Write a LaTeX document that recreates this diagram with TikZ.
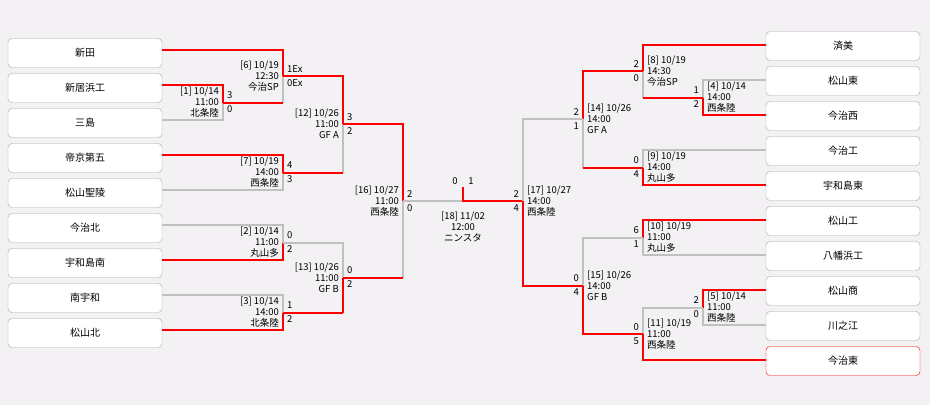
\documentclass[tikz,border=0pt]{standalone}
\usepackage{fontspec}
\setmainfont{Noto Sans CJK JP}
\usepackage{tikz}
\definecolor{bg}{HTML}{F3F1F3}
\definecolor{lgray}{HTML}{C0C0C0}
\definecolor{bgray}{HTML}{A8A8A8}
\begin{document}
\begin{tikzpicture}[x=1pt,y=-1pt,
  win/.style={draw=red,line width=2pt},
  lose/.style={draw=lgray,line width=2pt},
  team/.style={draw=bgray,fill=white,rounded corners=4pt,minimum width=154pt,minimum height=29pt,inner sep=0pt,font=\fontsize{10}{12}\selectfont},
  info/.style={inner sep=0pt,font=\fontsize{9.5}{11}\selectfont},
  score/.style={inner sep=0pt,font=\fontsize{9.5}{10}\selectfont}]
\fill[bg] (0,0) rectangle (930,405);
\useasboundingbox (0,0) rectangle (930,405);
% teams
\foreach \t [count=\i] in {新田,新居浜工,三島,帝京第五,松山聖陵,今治北,宇和島南,南宇和,松山北}
  \node[team] (l\i) at (85,18+35*\i) {\t};
\foreach \t [count=\i] in {済美,松山東,今治西,今治工,宇和島東,松山工,八幡浜工,松山商,川之江}
  \node[team] (r\i) at (843,11+35*\i) {\t};
\node[team,draw=red] (r10) at (843,361) {今治東};

% left side
\draw[win] (162,85) -- (223,85) -- (223,102.5);
\draw[lose] (162,120) -- (223,120) -- (223,102.5);
\draw[win] (162,50) -- (283,50) -- (283,76);
\draw[lose] (283,76) -- (283,102.5);
\draw[win] (223,102.5) -- (283,102.5);
\draw[win] (162,155) -- (283,155) -- (283,172.5);
\draw[lose] (162,190) -- (283,190) -- (283,172.5);
\draw[lose] (162,225) -- (283,225) -- (283,242.5);
\draw[win] (162,260) -- (283,260) -- (283,242.5);
\draw[lose] (162,295) -- (283,295) -- (283,312.5);
\draw[win] (162,330) -- (283,330) -- (283,312.5);
\draw[win] (283,76) -- (343,76) -- (343,124);
\draw[lose] (343,124) -- (343,172.5);
\draw[win] (283,172.5) -- (343,172.5);
\draw[lose] (283,242.5) -- (343,242.5) -- (343,277.5);
\draw[win] (343,277.5) -- (343,312.5);
\draw[win] (283,312.5) -- (343,312.5);
\draw[win] (343,124) -- (403,124) -- (403,201);
\draw[lose] (403,201) -- (403,277.5);
\draw[win] (343,277.5) -- (403,277.5);
% final
\draw[lose] (403,201) -- (463,201);
\draw[win] (463,187) -- (463,201) -- (523,201);
% right side
\draw[lose] (766,80) -- (703,80) -- (703,97.5);
\draw[win] (766,115) -- (703,115) -- (703,97.5);
\draw[win] (766,45) -- (643,45) -- (643,71);
\draw[lose] (643,71) -- (643,97.5);
\draw[win] (703,97.5) -- (643,97.5);
\draw[lose] (766,150) -- (643,150) -- (643,167.5);
\draw[win] (766,185) -- (643,185) -- (643,167.5);
\draw[win] (766,220) -- (643,220) -- (643,237.5);
\draw[lose] (766,255) -- (643,255) -- (643,237.5);
\draw[win] (766,290) -- (703,290) -- (703,307.5);
\draw[lose] (766,325) -- (703,325) -- (703,307.5);
\draw[lose] (703,307.5) -- (643,307.5) -- (643,334);
\draw[win] (643,334) -- (643,360) -- (766,360);
\draw[win] (643,71) -- (583,71) -- (583,119);
\draw[lose] (583,119) -- (583,167.5);
\draw[win] (643,167.5) -- (583,167.5);
\draw[lose] (643,237.5) -- (583,237.5) -- (583,285.5);
\draw[win] (583,285.5) -- (583,334) -- (643,334);
\draw[lose] (583,119) -- (523,119) -- (523,201);
\draw[win] (523,201) -- (523,285.5) -- (583,285.5);

% match info, left
\foreach \x/\y/\txt/\a/\b in {
  223/102.5/{[1] 10/14\\11:00\\北条陸}/3/0,
  283/76/{[6] 10/19\\12:30\\今治SP}/1Ex/0Ex,
  283/172.5/{[7] 10/19\\14:00\\西条陸}/4/3,
  283/242.5/{[2] 10/14\\11:00\\丸山多}/0/2,
  283/312.5/{[3] 10/14\\14:00\\北条陸}/1/2,
  343/124/{[12] 10/26\\11:00\\GF A}/3/2,
  343/277.5/{[13] 10/26\\11:00\\GF B}/0/2,
  403/201/{[16] 10/27\\11:00\\西条陸}/2/0}{
  \node[info,anchor=east,align=right] at (\x-4,\y) {\txt};
  \node[score,anchor=west] at (\x+4,\y-7) {\a};
  \node[score,anchor=west] at (\x+4,\y+7) {\b};
}
% match info, right
\foreach \x/\y/\txt/\a/\b in {
  703/97.5/{[4] 10/14\\14:00\\西条陸}/1/2,
  643/71/{[8] 10/19\\14:30\\今治SP}/2/0,
  643/167.5/{[9] 10/19\\14:00\\丸山多}/0/4,
  643/237.5/{[10] 10/19\\11:00\\丸山多}/6/1,
  703/307.5/{[5] 10/14\\11:00\\西条陸}/2/0,
  643/334/{[11] 10/19\\11:00\\西条陸}/0/5,
  583/119/{[14] 10/26\\14:00\\GF A}/2/1,
  583/285.5/{[15] 10/26\\14:00\\GF B}/0/4,
  523/201/{[17] 10/27\\14:00\\西条陸}/2/4}{
  \node[info,anchor=west,align=left] at (\x+4,\y) {\txt};
  \node[score,anchor=east] at (\x-4,\y-7) {\a};
  \node[score,anchor=east] at (\x-4,\y+7) {\b};
}
% final
\node[info,align=center] (fin) at (463,227) {[18] 11/02\\12:00\\ニンスタ};
\node[score] (fs0) at (455,181) {0};
\node[score] (fs1) at (471,181) {1};
\end{tikzpicture}
\end{document}
